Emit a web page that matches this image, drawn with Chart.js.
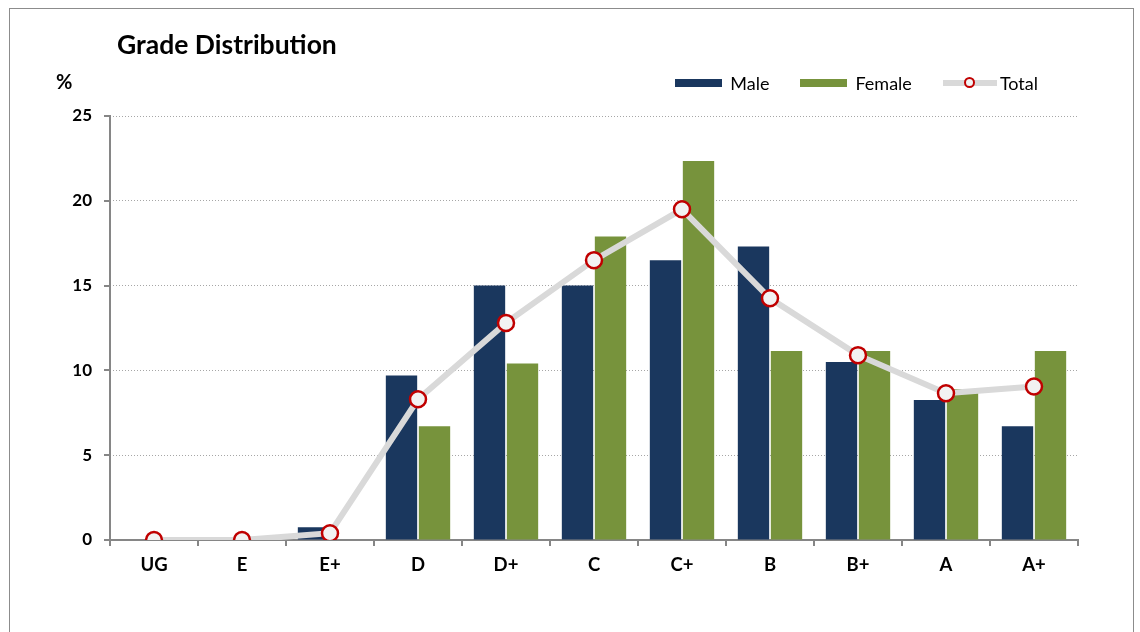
<!DOCTYPE html>
<html>
<head>
<meta charset="utf-8">
<script src="https://cdn.jsdelivr.net/npm/chart.js@4/dist/chart.umd.min.js"></script>
<style>
  body { margin: 0; background: #fff; font-family: Lato, "Open Sans", sans-serif; }
  #wrap { position: relative; width: 1140px; height: 632px; overflow: hidden; }
  #frame { position: absolute; left: 9px; top: 8px; width: 1123px; height: 700px; border: 1px solid #8c8c8c; }
  #chart { position: absolute; left: 0; top: 0; }
  #title { position: absolute; left: 117px; top: 28px; font-size: 26.5px; font-weight: bold; line-height: 32px; color: #000; }
  #unit { position: absolute; left: 56px; top: 70px; font-size: 20px; font-weight: bold; line-height: 22px; color: #000; }
  #legend { position: absolute; right: 102px; top: 72px; display: flex; align-items: center; font-size: 18px; line-height: 22px; color: #000; }
  .item { display: flex; align-items: center; margin-left: 31px; }
  .swatch { position: relative; width: 47px; height: 8px; margin-right: 8px; }
  .dot { position: absolute; left: 50%; top: 50%; width: 7px; height: 7px; margin: -6px 0 0 -6px; border: 2.5px solid #c00000; border-radius: 50%; background: #f2f2f2; }
</style>
</head>
<body>
<div id="wrap">
  <div id="frame"></div>
  <canvas id="chart" width="1140" height="632"></canvas>
  <div id="title">Grade Distribution</div>
  <div id="unit">%</div>
  <div id="legend"></div>
</div>
<script>
const grades = ["UG", "E", "E+", "D", "D+", "C", "C+", "B", "B+", "A", "A+"];
const male = [0, 0, 0.75, 9.7, 15.0, 15.0, 16.5, 17.3, 10.5, 8.25, 6.7];
const female = [0, 0, 0, 6.7, 10.4, 17.9, 22.35, 11.15, 11.15, 8.9, 11.15];
const total = [0, 0, 0.4, 8.3, 12.8, 16.5, 19.5, 14.25, 10.9, 8.65, 9.05];
const yTicks = [0, 5, 10, 15, 20, 25];

const chartCanvas = document.querySelector("#chart");

const gradeChart = new Chart(chartCanvas, {
  type: "bar",
  data: {
    labels: grades,
    datasets: [
      {
        label: "Male",
        data: male,
        backgroundColor: "#1a375e",
        barPercentage: 0.95,
        categoryPercentage: 0.75,
        order: 1,
      },
      {
        label: "Female",
        data: female,
        backgroundColor: "#77933c",
        barPercentage: 0.95,
        categoryPercentage: 0.75,
        order: 1,
      },
      {
        type: "line",
        label: "Total",
        data: total,
        borderColor: "#d9d9d9",
        borderWidth: 6,
        pointRadius: 8,
        pointBorderWidth: 2.5,
        pointBorderColor: "#c00000",
        pointBackgroundColor: "#f2f2f2",
        tension: 0,
        order: 0,
      },
    ],
  },
  options: {
    responsive: false,
    animation: false,
    layout: {
      padding: { left: 40, right: 62, top: 116, bottom: 52 },
    },
    plugins: {
      legend: { display: false },
      tooltip: { enabled: false },
    },
    scales: {
      x: {
        offset: true,
        grid: {
          offset: true,
          drawOnChartArea: false,
          drawTicks: true,
          tickLength: 6,
          color: "#868686",
          lineWidth: 2,
        },
        border: { color: "#868686", width: 2 },
        ticks: { color: "#000", font: { family: "Lato", size: 18.5, weight: "bold" }, padding: 8 },
        afterFit: (scale) => { scale.height = 40; },
      },
      y: {
        min: 0,
        max: 25,
        weight: 1,
        afterBuildTicks: (scale) => { scale.ticks = yTicks.map((v) => ({ value: v })); },
        grid: { color: "#a6a6a6", lineWidth: 1, drawTicks: false },
        border: { display: false, dash: [1, 2] },
        ticks: { color: "#000", font: { family: "Lato", size: 17, weight: "bold" }, padding: 12 },
        afterFit: (scale) => { scale.width = 64; },
      },
      yMarks: {
        position: "left",
        min: 0,
        max: 25,
        weight: 0,
        afterBuildTicks: (scale) => { scale.ticks = yTicks.map((v) => ({ value: v })); },
        grid: { drawOnChartArea: false, drawTicks: true, tickLength: 6, color: "#868686", lineWidth: 2 },
        border: { color: "#868686", width: 2 },
        ticks: { display: false },
        afterFit: (scale) => { scale.width = 6; },
      },
    },
  },
});

// legend built from the datasets
const legendBox = document.querySelector("#legend");
gradeChart.data.datasets.forEach((ds) => {
  const item = document.createElement("div");
  item.className = "item";
  const swatch = document.createElement("div");
  swatch.className = "swatch";
  if (ds.type === "line") {
    swatch.style.width = "54px";
    swatch.style.height = "6px";
    swatch.style.marginRight = "3px";
    swatch.style.background = ds.borderColor;
    const dot = document.createElement("div");
    dot.className = "dot";
    swatch.appendChild(dot);
  } else {
    swatch.style.background = ds.backgroundColor;
  }
  const text = document.createElement("span");
  text.textContent = ds.label;
  item.appendChild(swatch);
  item.appendChild(text);
  legendBox.appendChild(item);
});
</script>
</body>
</html>
